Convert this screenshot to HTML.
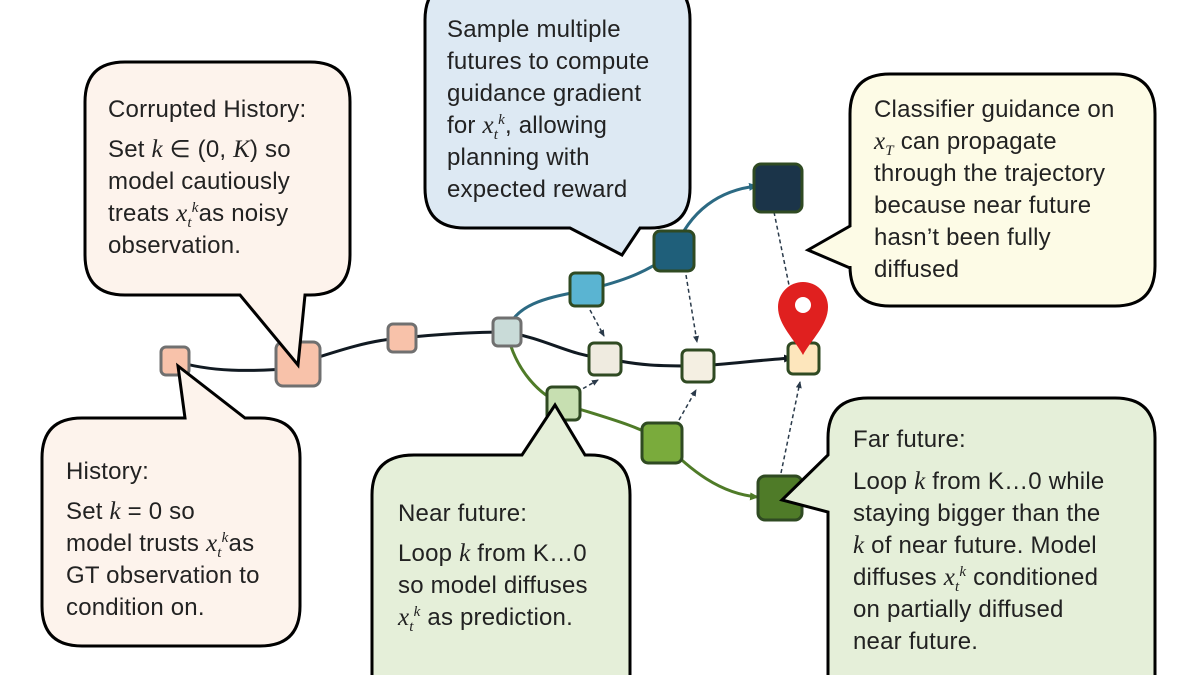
<!DOCTYPE html>
<html><head><meta charset="utf-8"><style>
body{margin:0;width:1200px;height:675px;overflow:hidden;background:#fff;position:relative;font-family:"Liberation Sans",sans-serif;}
svg{position:absolute;left:0;top:0}
.t{position:absolute;font-size:24px;letter-spacing:0.2px;line-height:32px;color:#222;white-space:nowrap}
i{font-family:"Liberation Serif",serif;font-size:25px}
sub,sup{font-size:15px;line-height:0}
</style></head><body>
<svg width="1200" height="675" viewBox="0 0 1200 675">
<defs>
<marker id="ab" markerWidth="10" markerHeight="10" refX="8" refY="5" orient="auto" markerUnits="userSpaceOnUse"><path d="M0,1 L9,5 L0,9 Z" fill="#111a22"/></marker>
<marker id="abl" markerWidth="10" markerHeight="10" refX="8" refY="5" orient="auto" markerUnits="userSpaceOnUse"><path d="M0,1 L9,5 L0,9 Z" fill="#2c6a83"/></marker>
<marker id="ag" markerWidth="10" markerHeight="10" refX="8" refY="5" orient="auto" markerUnits="userSpaceOnUse"><path d="M0,1 L9,5 L0,9 Z" fill="#4f7b28"/></marker>
<marker id="ad" markerWidth="8" markerHeight="8" refX="6" refY="4" orient="auto" markerUnits="userSpaceOnUse"><path d="M0,1 L7,4 L0,7 Z" fill="#2a3a4a"/></marker>
</defs>
<!-- connectors -->
<g fill="none" stroke-width="3">
<path d="M175,361 C210,372 250,372 297,368" stroke="#111a22"/>
<path d="M297,364 C340,350 370,340 402,338" stroke="#111a22"/>
<path d="M402,338 C440,334 470,332 507,332" stroke="#111a22"/>
<path d="M507,332 C550,340 570,356 605,358" stroke="#111a22"/>
<path d="M605,358 C640,366 660,366 698,366 C730,364 760,360 792,358" stroke="#111a22" marker-end="url(#ab)"/>
<path d="M507,332 C515,300 560,296 586,290 C620,282 650,272 674,251 C690,210 720,190 757,186" stroke="#2c6a83" marker-end="url(#abl)"/>
<path d="M507,332 C515,370 540,396 563,404 C600,416 640,426 662,441 C690,470 720,494 758,497" stroke="#4f7b28" marker-end="url(#ag)"/>
</g>
<g fill="none" stroke="#2a3a4a" stroke-width="1.5" stroke-dasharray="4,3">
<path d="M590,310 L604,336" marker-end="url(#ad)"/>
<path d="M686,275 L697,342" marker-end="url(#ad)"/>
<path d="M774,212 L790,290"/>
<path d="M577,392 L598,380" marker-end="url(#ad)"/>
<path d="M679,420 L696,390" marker-end="url(#ad)"/>
<path d="M781,473 L800,382" marker-end="url(#ad)"/>
</g>
<!-- nodes -->
<g stroke-width="3">
<rect x="161" y="347" width="28" height="28" rx="5" fill="#f8c2aa" stroke="#707070"/>
<rect x="276" y="342" width="44" height="44" rx="7" fill="#f8c2aa" stroke="#707070"/>
<rect x="388" y="324" width="28" height="28" rx="5" fill="#f8c2aa" stroke="#707070"/>
<rect x="493" y="318" width="28" height="28" rx="5" fill="#c9dbd8" stroke="#707070"/>
<rect x="570" y="273" width="33" height="33" rx="5" fill="#5ab4d2" stroke="#2f4a22"/>
<rect x="654" y="231" width="40" height="40" rx="6" fill="#1f5f7a" stroke="#2f4a22"/>
<rect x="754" y="164" width="48" height="48" rx="7" fill="#1b3449" stroke="#2f4a22"/>
<rect x="589" y="343" width="32" height="32" rx="5" fill="#efebe0" stroke="#2f4a22"/>
<rect x="682" y="350" width="32" height="32" rx="5" fill="#f4efe2" stroke="#2f4a22"/>
<rect x="788" y="343" width="31" height="31" rx="5" fill="#fde6bc" stroke="#2f4a22"/>
<rect x="547" y="387" width="33" height="33" rx="5" fill="#c7dfb1" stroke="#2f4a22"/>
<rect x="642" y="423" width="40" height="40" rx="6" fill="#7aab3c" stroke="#2f4a22"/>
<rect x="758" y="476" width="44" height="44" rx="7" fill="#4f7b28" stroke="#2f4a22"/>
</g>
<g stroke="#000" stroke-width="3" stroke-linejoin="miter">
<path d="M125,62 H310 Q350,62 350,102 V255 Q350,295 310,295 H305 L298,365 L240,295 H125 Q85,295 85,255 V102 Q85,62 125,62 Z" fill="#fdf3ec"/>
<path d="M465,-20 H650 Q690,-20 690,20 V188 Q690,228 650,228 H640 L622,255 L570,228 H465 Q425,228 425,188 V20 Q425,-20 465,-20 Z" fill="#dde9f3"/>
<path d="M890,74 H1115 Q1155,74 1155,114 V266 Q1155,306 1115,306 H890 Q850,306 850,266 V268 L808,250 L850,226 V114 Q850,74 890,74 Z" fill="#fdfbe6"/>
<path d="M82,418 H185 L178,366 L245,418 H260 Q300,418 300,458 V606 Q300,646 260,646 H82 Q42,646 42,606 V458 Q42,418 82,418 Z" fill="#fdf3ec"/>
<path d="M414,455 H522 L555,405 L585,455 H590 Q630,455 630,495 V690 H372 V495 Q372,455 414,455 Z" fill="#e5efd9"/>
<path d="M868,398 H1115 Q1155,398 1155,438 V690 H828 V512 L782,500 L828,455 V438 Q828,398 868,398 Z" fill="#e5efd9"/>
</g>
<!-- pin -->
<path d="M803,355 C795,340 778,325 778,307 A25,25 0 0 1 828,307 C828,325 811,340 803,355 Z" fill="#e0201f"/>
<circle cx="803" cy="305" r="8" fill="#fff"/>
</svg>
<div class="t" style="left:108px;top:94px">Corrupted History:<div style="height:8px"></div>Set <i>k</i> ∈ (0, <i>K</i>) so<br>model cautiously<br>treats <i>x</i><sub><i style="font-size:15px">t</i></sub><sup><i style="font-size:15px">k</i></sup>as noisy<br>observation.</div>
<div class="t" style="left:447px;top:14px">Sample multiple<br>futures to compute<br>guidance gradient<br>for <i>x</i><sub><i style="font-size:15px">t</i></sub><sup><i style="font-size:15px">k</i></sup>, allowing<br>planning with<br>expected reward</div>
<div class="t" style="left:874px;top:94px">Classifier guidance on<br><i>x<sub style="font-size:15px">T</sub></i> can propagate<br>through the trajectory<br>because near future<br>hasn’t been fully<br>diffused</div>
<div class="t" style="left:66px;top:456px">History:<div style="height:8px"></div>Set <i>k</i> = 0 so<br>model trusts <i>x</i><sub><i style="font-size:15px">t</i></sub><sup><i style="font-size:15px">k</i></sup>as<br>GT observation to<br>condition on.</div>
<div class="t" style="left:398px;top:498px">Near future:<div style="height:8px"></div>Loop <i>k</i> from K…0<br>so model diffuses<br><i>x</i><sub><i style="font-size:15px">t</i></sub><sup><i style="font-size:15px">k</i></sup> as prediction.</div>
<div class="t" style="left:853px;top:424px">Far future:<div style="height:10px"></div>Loop <i>k</i> from K…0 while<br>staying bigger than the<br><i>k</i> of near future. Model<br>diffuses <i>x</i><sub><i style="font-size:15px">t</i></sub><sup><i style="font-size:15px">k</i></sup> conditioned<br>on partially diffused<br>near future.</div>
</body></html>
